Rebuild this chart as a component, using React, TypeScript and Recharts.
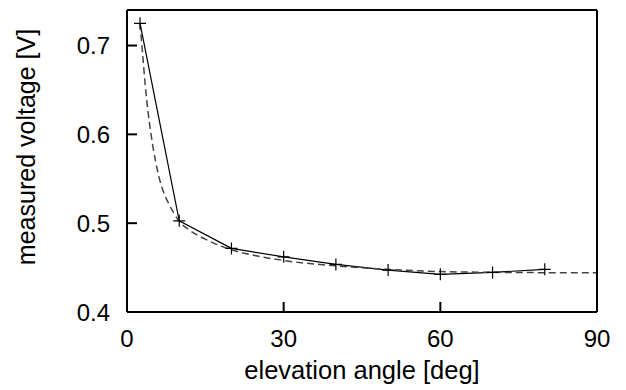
import { Line, LineChart, XAxis, YAxis } from "recharts"

// measured points (solid line with + markers)
const measuredAngle = [2.5, 10, 20, 30, 40, 50, 60, 70, 80]
const measuredVoltage = [0.725, 0.5026, 0.4716, 0.4621, 0.4536, 0.4472, 0.4424, 0.4446, 0.448]

// fitted curve (dashed)
const fitAngle = [2.5, 3, 3.5, 4, 5, 6, 7, 8, 9, 10, 12, 15, 20, 25, 30, 40, 50, 60, 70, 80, 90]
const fitVoltage = [
  0.725, 0.69, 0.655, 0.627, 0.585, 0.555, 0.535, 0.522, 0.511, 0.502, 0.492, 0.482, 0.47, 0.463,
  0.458, 0.452, 0.448, 0.4455, 0.4447, 0.4443, 0.4442,
]

const xTicks = [0, 30, 60, 90]
const yTicks = [0.4, 0.5, 0.6, 0.7]

const measured = measuredAngle.map((angle, i) => ({ angle, voltage: measuredVoltage[i] }))
const fit = fitAngle.map((angle, i) => ({ angle, voltage: fitVoltage[i] }))

const font = "'Liberation Sans', Arial, sans-serif"
const tickStyle = { fill: "#000", fontSize: 24, fontFamily: font }

function Cross(props: any) {
  const { cx, cy } = props
  if (cx == null || cy == null) return null
  return <path d={`M${cx - 6},${cy}H${cx + 6}M${cx},${cy - 6}V${cy + 6}`} stroke="#000" strokeWidth={1.2} fill="none" />
}

function XLabel(props: any) {
  const vb = props.viewBox
  return (
    <text x={vb.x + vb.width / 2} y={vb.y + 67} textAnchor="middle" fontSize={25.5} fontFamily={font} fill="#000">
      elevation angle [deg]
    </text>
  )
}

function YLabel(props: any) {
  const vb = props.viewBox
  const x = vb.x + 35
  const y = vb.y + vb.height / 2 - 14
  return (
    <text x={x} y={y} transform={`rotate(-90, ${x}, ${y})`} textAnchor="middle" fontSize={25} fontFamily={font} fill="#000">
      measured voltage [V]
    </text>
  )
}

const axisLine = { stroke: "#000", strokeWidth: 2 }
const tickLine = { stroke: "#000", strokeWidth: 2 }

export default function App() {
  return (
    <div style={{ position: "absolute", left: 0, top: 0, background: "#fff" }}>
      <LineChart width={626} height={390} margin={{ top: 9, right: 28, left: 0, bottom: 0 }}>
        <XAxis
          xAxisId="b"
          dataKey="angle"
          type="number"
          domain={[0, 90]}
          ticks={xTicks}
          allowDataOverflow
          height={78}
          tickSize={-10}
          tickMargin={28}
          tick={tickStyle}
          axisLine={axisLine}
          tickLine={tickLine}
          label={<XLabel />}
        />
        <XAxis
          xAxisId="t"
          orientation="top"
          dataKey="angle"
          type="number"
          domain={[0, 90]}
          ticks={xTicks}
          allowDataOverflow
          height={1}
          tickSize={-10}
          tick={false}
          axisLine={axisLine}
          tickLine={tickLine}
        />
        <YAxis
          yAxisId="l"
          type="number"
          domain={[0.4, 0.74]}
          ticks={yTicks}
          allowDataOverflow
          width={127}
          tickSize={-10}
          tickMargin={27}
          tick={tickStyle}
          axisLine={axisLine}
          tickLine={tickLine}
          label={<YLabel />}
        />
        <YAxis
          yAxisId="r"
          orientation="right"
          type="number"
          domain={[0.4, 0.74]}
          ticks={yTicks}
          allowDataOverflow
          width={1}
          tickSize={-10}
          tick={false}
          axisLine={axisLine}
          tickLine={tickLine}
        />
        <Line
          xAxisId="b"
          yAxisId="l"
          data={measured}
          dataKey="voltage"
          type="linear"
          stroke="#000"
          strokeWidth={1.2}
          dot={<Cross />}
          activeDot={false}
          isAnimationActive={false}
        />
        <Line
          xAxisId="b"
          yAxisId="l"
          data={fit}
          dataKey="voltage"
          type="monotone"
          stroke="#444"
          strokeWidth={1.5}
          strokeDasharray="7 4"
          dot={false}
          activeDot={false}
          isAnimationActive={false}
        />
      </LineChart>
    </div>
  )
}
